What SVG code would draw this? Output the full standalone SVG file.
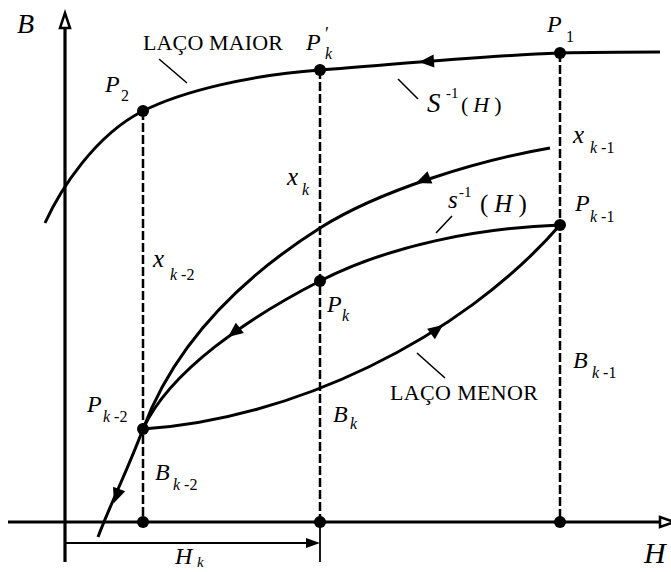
<svg xmlns="http://www.w3.org/2000/svg" width="671" height="572" viewBox="0 0 671 572">
<style>
 text{font-family:"Liberation Serif","Times New Roman",serif;fill:#000}
 .m{font-size:24px;font-style:italic}
 .s{font-size:16px}
 .si{font-size:16px;font-style:italic}
 .lbl{font-size:22px}
 .curve{fill:none;stroke:#000;stroke-width:3}
 .axis{fill:none;stroke:#000;stroke-width:3.2}
 .open{fill:#fff;stroke:#000;stroke-width:2.5}
 .dash{fill:none;stroke:#000;stroke-width:2.5;stroke-dasharray:9 3}
 .tick{stroke:#000;stroke-width:1.6}
 .dot{fill:#000}
</style>
<defs>
 <path id="ah" d="M0,0 L-15,-6.5 L-15,6.5 Z" fill="#000"/>
</defs>
<rect width="671" height="572" fill="#fff"/>

<g id="axes">
 <line class="axis" x1="65" y1="562" x2="65" y2="27"/>
 <polygon class="open" points="65,13 60,28 70,28"/>
 <line class="axis" x1="8" y1="522" x2="659" y2="522"/>
 <polygon class="open" points="674,522 660,517 660,527"/>
 <text class="m" x="17" y="33" style="font-size:28px">B</text>
 <text class="m" x="644" y="563" style="font-size:30px">H</text>
</g>

<g id="connectors">
 <line class="dash" x1="143" y1="111" x2="143" y2="522"/>
 <line class="dash" x1="320" y1="70" x2="320" y2="522"/>
 <line class="dash" x1="560" y1="53" x2="560" y2="522"/>
 <path id="major" class="curve" d="M45,223 C60,190 95,135 143,111 C183,91 250,75 320,70 C400,64 480,56 560,53 C600,52 640,52 660,52"/>
 <path id="xk" class="curve" d="M550,148 C480,160 380,190 320,228 C260,266 180,330 143,429 C128,469 110,505 98,537"/>
 <path id="s1" class="curve" d="M560,225 C480,228 390,245 320,281 C250,317 170,370 143,429"/>
 <path id="minor" class="curve" d="M143,429 C290,420 460,340 560,225"/>
 <use href="#ah" transform="translate(419,62) rotate(176)"/>
 <use href="#ah" transform="translate(416,183) rotate(158)"/>
 <use href="#ah" transform="translate(228,337) rotate(142)"/>
 <use href="#ah" transform="translate(443,325) rotate(-37)"/>
 <use href="#ah" transform="translate(114,503) rotate(110)"/>
 <line class="tick" x1="159" y1="59" x2="187" y2="83"/>
 <line class="tick" x1="398" y1="79" x2="418" y2="99"/>
 <line class="tick" x1="436" y1="233" x2="452" y2="216"/>
 <line class="tick" x1="417" y1="353" x2="445" y2="378"/>
 <line stroke="#000" stroke-width="1.8" x1="320" y1="522" x2="320" y2="562"/>
 <line stroke="#000" stroke-width="1.8" x1="65" y1="543" x2="308" y2="543"/>
 <polygon points="320,543 306,538 306,548" fill="#000"/>
</g>

<g id="labels">
 <text class="lbl" x="143" y="50" textLength="140" lengthAdjust="spacing">LAÇO MAIOR</text>
 <text class="lbl" x="390" y="400" textLength="148" lengthAdjust="spacing">LAÇO MENOR</text>
 <text class="m" x="427" y="112" style="font-size:27px">S</text>
 <text class="s" x="446" y="98" style="font-size:15px">-1</text>
 <text x="461" y="112" style="font-size:22px">(<tspan font-style="italic" dx="5">H</tspan><tspan dx="5">)</tspan></text>
 <text class="m" x="448" y="208" style="font-size:25px">s</text>
 <text class="s" x="459" y="197" style="font-size:15px">-1</text>
 <text x="480" y="212" style="font-size:25px">(<tspan font-style="italic" dx="6">H</tspan><tspan dx="6">)</tspan></text>
 <text class="m" x="573" y="143" style="font-size:25px">x</text>
 <text x="590" y="153" class="s"><tspan font-style="italic">k</tspan> -1</text>
 <text class="m" x="287" y="185" style="font-size:25px">x</text>
 <text class="si" x="302" y="195">k</text>
 <text class="m" x="153" y="267" style="font-size:25px">x</text>
 <text x="170" y="280" class="s"><tspan font-style="italic">k</tspan> -2</text>
 <text class="m" x="573" y="368">B</text>
 <text x="592" y="378" class="s"><tspan font-style="italic">k</tspan> -1</text>
 <text class="m" x="333" y="422">B</text>
 <text class="si" x="350" y="429">k</text>
 <text class="m" x="155" y="480">B</text>
 <text x="173" y="490" class="s"><tspan font-style="italic">k</tspan> -2</text>
 <text class="m" x="175" y="564">H</text>
 <text class="si" x="197" y="567" style="font-size:15px">k</text>
</g>

<g id="P2">
 <circle class="dot" cx="143" cy="111" r="6"/>
 <text class="m" x="105" y="92">P</text>
 <text class="s" x="121" y="101">2</text>
</g>
<g id="Pk_prime">
 <circle class="dot" cx="320" cy="70" r="6"/>
 <text class="m" x="306" y="50">P</text>
 <text class="s" x="325" y="40" style="font-size:18px">′</text>
 <text class="si" x="325" y="59">k</text>
</g>
<g id="P1">
 <circle class="dot" cx="560" cy="53" r="6"/>
 <text class="m" x="547" y="32">P</text>
 <text class="s" x="566" y="42">1</text>
</g>
<g id="Pk-1">
 <circle class="dot" cx="560" cy="225" r="6"/>
 <text class="m" x="575" y="211">P</text>
 <text x="590" y="222" class="s"><tspan font-style="italic">k</tspan> -1</text>
</g>
<g id="Pk">
 <circle class="dot" cx="320" cy="281" r="6"/>
 <text class="m" x="327" y="312">P</text>
 <text class="si" x="342" y="321">k</text>
</g>
<g id="Pk-2">
 <circle class="dot" cx="143" cy="429" r="6"/>
 <text class="m" x="87" y="412">P</text>
 <text x="103" y="422" class="s"><tspan font-style="italic">k</tspan> -2</text>
</g>
<g id="Hk-2">
 <circle class="dot" cx="143" cy="522" r="6"/>
</g>
<g id="Hk">
 <circle class="dot" cx="320" cy="522" r="6"/>
</g>
<g id="Hk-1">
 <circle class="dot" cx="560" cy="522" r="6"/>
</g>
</svg>
